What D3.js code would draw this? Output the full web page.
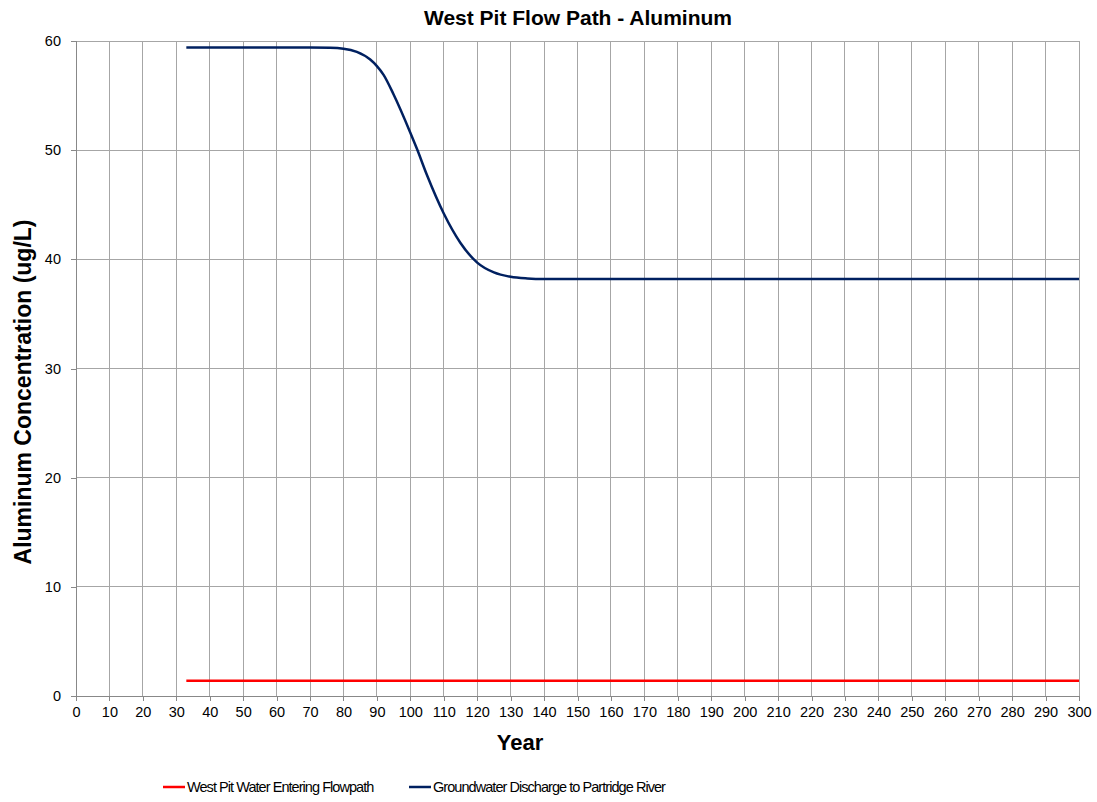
<!DOCTYPE html>
<html>
<head>
<meta charset="utf-8">
<script src="https://cdn.jsdelivr.net/npm/d3@7/dist/d3.min.js"></script>
<style>
  html, body { margin: 0; padding: 0; background: #fff; }
  svg { display: block; font-family: "Liberation Sans", Arial, sans-serif; }
</style>
</head>
<body>
<svg id="chart" width="1097" height="802"></svg>
<script>
// Year values for each series
const westPitYears = [33, 300];
const westPitValues = [1.4, 1.4];

const groundwaterYears = [33, 50, 70, 76, 80, 84, 88, 90, 92, 95, 100, 102, 105, 110, 115, 120, 125, 130, 135, 140, 160, 200, 250, 300];
const groundwaterValues = [59.4, 59.4, 59.4, 59.38, 59.3, 59.0, 58.3, 57.7, 56.9, 55.1, 51.6, 50.1, 47.7, 44.2, 41.5, 39.7, 38.8, 38.4, 38.25, 38.2, 38.2, 38.2, 38.2, 38.2];

const xTicks = d3.range(0, 301, 10);
const yTicks = [0, 10, 20, 30, 40, 50, 60];

const seriesNames = ["West Pit Water Entering Flowpath", "Groundwater Discharge to Partridge River"];
const seriesColors = ["#ff0000", "#002060"];

const svg = d3.select("#chart");
const plotLeft = 76, plotRight = 1079, plotTop = 41, plotBottom = 696;

const x = d3.scaleLinear().domain([0, 300]).range([plotLeft, plotRight]);
const y = d3.scaleLinear().domain([0, 60]).range([plotBottom, plotTop]);

// Grid
const grid = svg.append("g").attr("stroke", "#a6a6a6").attr("stroke-width", 1).attr("shape-rendering", "crispEdges");
grid.selectAll("line.v").data(xTicks.filter(d => d > 0)).join("line").attr("class", "v")
  .attr("x1", d => x(d)).attr("x2", d => x(d)).attr("y1", plotTop).attr("y2", plotBottom);
grid.selectAll("line.h").data(yTicks.filter(d => d > 0)).join("line").attr("class", "h")
  .attr("x1", plotLeft).attr("x2", plotRight).attr("y1", d => y(d)).attr("y2", d => y(d));

// Axes
const xAxis = svg.append("g").attr("transform", `translate(0,${plotBottom})`)
  .call(d3.axisBottom(x).tickValues(xTicks).tickSize(5).tickPadding(6).tickFormat(d3.format("d")));
const yAxis = svg.append("g").attr("transform", `translate(${plotLeft},0)`)
  .call(d3.axisLeft(y).tickValues(yTicks).tickSize(5).tickPadding(10).tickFormat(d3.format("d")));
[xAxis, yAxis].forEach(a => {
  a.select(".domain").attr("stroke", "#888").attr("shape-rendering", "crispEdges");
  a.selectAll(".tick line").attr("stroke", "#888").attr("shape-rendering", "crispEdges");
  a.selectAll(".tick text").attr("font-size", 14.5).attr("fill", "#000")
    .attr("font-family", "'Liberation Sans', Arial, sans-serif");
});

// Series lines
const line = d3.line().x(d => x(d[0])).y(d => y(d[1])).curve(d3.curveMonotoneX);
const westPit = westPitYears.map((yr, i) => [yr, westPitValues[i]]);
const groundwater = groundwaterYears.map((yr, i) => [yr, groundwaterValues[i]]);

svg.append("path").datum(westPit).attr("d", line)
  .attr("fill", "none").attr("stroke", seriesColors[0]).attr("stroke-width", 2.5);
svg.append("path").datum(groundwater).attr("d", line)
  .attr("fill", "none").attr("stroke", seriesColors[1]).attr("stroke-width", 2.5);

// Title and axis titles
svg.append("text").attr("x", 578).attr("y", 25).attr("text-anchor", "middle")
  .attr("font-size", 21).attr("font-weight", "bold")
  .text("West Pit Flow Path - Aluminum");
svg.append("text").attr("x", 520).attr("y", 750).attr("text-anchor", "middle")
  .attr("font-size", 22).attr("font-weight", "bold").text("Year");
svg.append("text").attr("transform", "translate(31,392) rotate(-90)").attr("text-anchor", "middle")
  .attr("font-size", 23).attr("font-weight", "bold")
  .text("Aluminum Concentration (ug/L)");

// Legend
const legendX = [163, 409];
const lg = svg.append("g").attr("transform", "translate(0,787)");
seriesNames.forEach((name, i) => {
  lg.append("line").attr("x1", legendX[i]).attr("x2", legendX[i] + 22).attr("y1", 0).attr("y2", 0)
    .attr("stroke", seriesColors[i]).attr("stroke-width", 2.5);
  lg.append("text").attr("x", legendX[i] + 24).attr("y", 5).attr("font-size", 14.5)
    .attr("letter-spacing", -0.95).text(name);
});
</script>
</body>
</html>
